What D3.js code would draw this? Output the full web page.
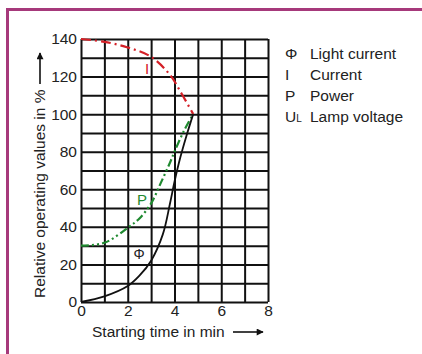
<!DOCTYPE html>
<html>
<head>
<meta charset="utf-8">
<script src="https://cdn.jsdelivr.net/npm/d3@7"></script>
<style>
  body { margin: 0; background: #fff; }
  svg { display: block; font-family: "Liberation Sans", Arial, sans-serif; }
</style>
</head>
<body>
<svg id="chart" width="422" height="354"></svg>
<script>
// values
const timeI = [0, 1, 2, 3, 3.8, 4.3, 4.8];
const current = [140, 138.5, 135.5, 130.5, 121, 111, 100];

const timeP = [0, 1, 2, 2.5, 3, 3.4, 3.8, 4.0, 4.4, 4.8];
const power = [30, 31.5, 39.5, 44.5, 52.5, 63, 74, 80, 91, 100];

const timeF = [0, 1, 2, 2.5, 3, 3.5, 3.8, 4, 4.25, 4.5, 4.8];
const lightFlux = [0, 3, 8.5, 14, 22, 36, 52, 64, 77, 88, 100];

const xTicks = [0, 2, 4, 6, 8];
const yTicks = [0, 20, 40, 60, 80, 100, 120, 140];
const legendSymbols = ['Φ', 'I', 'P', 'U'];
const legendTexts = ['Light current', 'Current', 'Power', 'Lamp voltage'];

const svg = d3.select('#chart');
const frameColor = '#a6397b';
const fontSize = '15.5px';

// frame (top and left edges visible)
svg.append('line').attr('x1', 6).attr('x2', 422).attr('y1', 9.5).attr('y2', 9.5)
  .attr('stroke', frameColor).attr('stroke-width', 3);
svg.append('line').attr('x1', 7.5).attr('x2', 7.5).attr('y1', 8).attr('y2', 354)
  .attr('stroke', frameColor).attr('stroke-width', 3);

const x = d3.scaleLinear().domain([0, 8]).range([81, 268]);
const y = d3.scaleLinear().domain([0, 140]).range([302, 39]);

// grid
svg.append('g')
  .attr('transform', 'translate(81,0)')
  .call(d3.axisLeft(y).tickValues(d3.range(0, 141, 10)).tickSize(-(268 - 81)).tickFormat(''))
  .call(g => g.select('.domain').remove())
  .selectAll('line').attr('stroke', '#111').attr('stroke-width', 2);

svg.append('g')
  .attr('transform', 'translate(0,302)')
  .call(d3.axisBottom(x).tickValues(d3.range(0, 9, 1)).tickSize(-(302 - 39)).tickFormat(''))
  .call(g => g.select('.domain').remove())
  .selectAll('line').attr('stroke', '#111').attr('stroke-width', 2);

// tick labels
svg.append('g')
  .attr('transform', 'translate(81,0)')
  .call(d3.axisLeft(y).tickValues(yTicks).tickSize(0).tickPadding(4))
  .call(g => g.select('.domain').remove())
  .selectAll('text')
    .style('font-size', fontSize).style('font-family', 'inherit').attr('fill', '#222');

svg.append('g')
  .attr('transform', 'translate(0,302)')
  .call(d3.axisBottom(x).tickValues(xTicks).tickSize(0).tickPadding(3))
  .call(g => g.select('.domain').remove())
  .selectAll('text')
    .style('font-size', fontSize).style('font-family', 'inherit').attr('fill', '#222');

// axis titles with arrows
const defs = svg.append('defs');
defs.append('marker')
  .attr('id', 'arrow').attr('viewBox', '0 0 10 10')
  .attr('refX', 9).attr('refY', 5)
  .attr('markerWidth', 10).attr('markerHeight', 7)
  .attr('markerUnits', 'userSpaceOnUse')
  .attr('orient', 'auto')
  .append('path').attr('d', 'M0,0 L10,5 L0,10 Z').attr('fill', '#111');

svg.append('text')
  .attr('x', 92).attr('y', 337)
  .style('font-size', fontSize).attr('fill', '#222')
  .text('Starting time in min');
svg.append('line')
  .attr('x1', 233).attr('x2', 263).attr('y1', 332).attr('y2', 332)
  .attr('stroke', '#111').attr('stroke-width', 1.6)
  .attr('marker-end', 'url(#arrow)');

svg.append('text')
  .attr('transform', 'translate(45,298) rotate(-90)')
  .style('font-size', fontSize).attr('fill', '#222')
  .text('Relative operating values in %');
svg.append('line')
  .attr('x1', 40).attr('x2', 40).attr('y1', 84).attr('y2', 53)
  .attr('stroke', '#111').attr('stroke-width', 1.6)
  .attr('marker-end', 'url(#arrow)');

// curves
const line = d3.line()
  .x(d => x(d[0]))
  .y(d => y(d[1]))
  .curve(d3.curveCatmullRom);

svg.append('path')
  .datum(d3.zip(timeI, current))
  .attr('d', line)
  .attr('fill', 'none').attr('stroke', '#d42027').attr('stroke-width', 2.2)
  .attr('stroke-dasharray', '10,4,2,4');

svg.append('path')
  .datum(d3.zip(timeP, power))
  .attr('d', line)
  .attr('fill', 'none').attr('stroke', '#1f8a30').attr('stroke-width', 2.2)
  .attr('stroke-dasharray', '8,3,2,3,2,3');

svg.append('path')
  .datum(d3.zip(timeF, lightFlux))
  .attr('d', line)
  .attr('fill', 'none').attr('stroke', '#111').attr('stroke-width', 1.8);

// curve labels
svg.append('text').attr('x', 147).attr('y', 74)
  .attr('text-anchor', 'middle').style('font-size', '15px').attr('fill', '#d42027').text('I');
svg.append('text').attr('x', 142).attr('y', 205)
  .attr('text-anchor', 'middle').style('font-size', '15px').attr('fill', '#1f8a30').text('P');
svg.append('text').attr('x', 139).attr('y', 259)
  .attr('text-anchor', 'middle').style('font-size', '14px').attr('fill', '#222').text('Φ');

// legend
const legend = svg.append('g').selectAll('g')
  .data(d3.zip(legendSymbols, legendTexts))
  .enter().append('g')
  .attr('transform', (d, i) => 'translate(0,' + (59 + i * 21) + ')');

legend.append('text')
  .attr('x', 285)
  .style('font-size', fontSize).attr('fill', '#222')
  .each(function(d) {
    const t = d3.select(this);
    t.append('tspan').text(d[0]);
    if (d[0] === 'U') {
      t.append('tspan').style('font-size', '10px').attr('dy', 0).text('L');
    }
  });

legend.append('text')
  .attr('x', 310)
  .style('font-size', fontSize).attr('fill', '#222')
  .text(d => d[1]);
</script>
</body>
</html>
